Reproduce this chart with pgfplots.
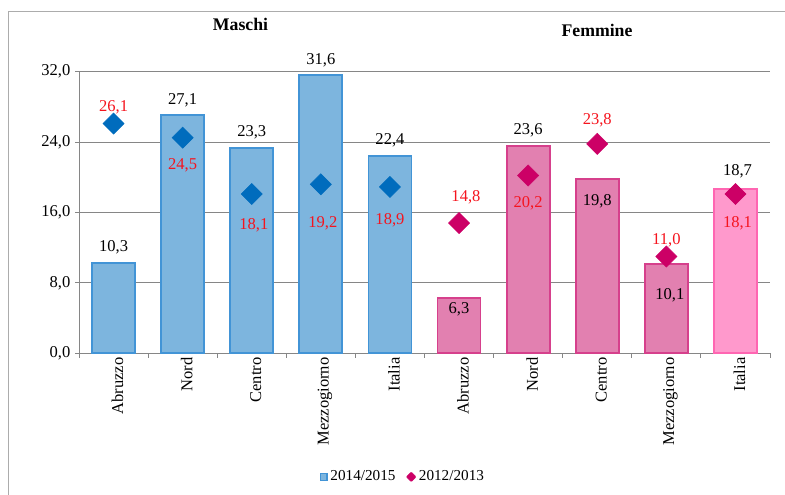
\documentclass[border=0pt]{standalone}
\usepackage{pgfplots}
\pgfplotsset{compat=1.18}
\usepackage{fontspec}
\setmainfont{Liberation Serif}
\definecolor{mfill}{RGB}{125,181,222}
\definecolor{mdraw}{RGB}{66,148,214}
\definecolor{ffill}{RGB}{226,128,176}
\definecolor{fdraw}{RGB}{214,64,140}
\definecolor{ifill}{RGB}{255,153,204}
\definecolor{idraw}{RGB}{255,102,178}
\definecolor{mdia}{RGB}{0,108,189}
\definecolor{fdia}{RGB}{204,0,102}
\definecolor{gridc}{RGB}{134,134,134}
\definecolor{lblred}{RGB}{245,20,30}
\begin{document}
\begin{tikzpicture}
\useasboundingbox (0,0) rectangle (588.75pt,371.25pt);
\draw[line width=1.1pt, color=gray!65] (6.2pt,-5pt) -- (6.2pt,362.5pt) -- (600pt,362.5pt);
\node[anchor=base, font=\fontsize{13.3}{15}\selectfont\bfseries] at (180.4pt,348.2pt) {Maschi};
\node[anchor=base, font=\fontsize{13.3}{15}\selectfont\bfseries] at (447.75pt,343.7pt) {Femmine};
\begin{axis}[
  at={(59.25pt,106.3pt)}, anchor=south west,
  scale only axis, width=518.25pt, height=211.2pt,
  xmin=-0.5, xmax=9.5, ymin=0, ymax=32,
  clip=false,
  axis x line*=bottom, axis y line*=left,
  axis line style={gridc, line width=0.7pt, -},
  ytick={0,8,16,24,32},
  ymajorgrids, grid style={gridc, line width=0.7pt},
  /pgf/number format/fixed,
  /pgf/number format/fixed zerofill,
  /pgf/number format/precision=1,
  /pgf/number format/use comma,
  /pgf/number format/assume math mode=true,
  yticklabel style={font=\fontsize{12.4}{14}\selectfont},
  xtick={0,...,9},
  xticklabels={Abruzzo,Nord,Centro,Mezzogiorno,Italia,Abruzzo,Nord,Centro,Mezzogiorno,Italia},
  xticklabel style={rotate=90, anchor=east, font=\fontsize{12.4}{14}\selectfont, inner sep=0pt, yshift=-3pt},
  minor xtick={-0.5,0.5,...,9.5},
  major x tick style={draw=none},
  tick style={gridc, line width=0.7pt},
  tick align=outside,
  major tick length=3pt, minor tick length=3.5pt,
  legend style={at={(0.469,-0.439)}, anchor=center, draw=none, fill=none,
    font=\fontsize{11.4}{13}\selectfont, legend columns=2,
    /tikz/every even column/.append style={column sep=6pt},
    legend cell align=left},
]
\addplot[ybar, bar shift=0pt, bar width=32.25pt, fill=mfill, draw=mdraw, line width=1.4pt, forget plot]
  coordinates {(0,10.3) (1,27.1) (2,23.3) (3,31.6) (4,22.4)};
\addplot[ybar, bar shift=0pt, bar width=32.25pt, fill=ffill, draw=fdraw, line width=1.4pt, forget plot]
  coordinates {(5,6.3) (6,23.6) (7,19.8) (8,10.1)};
\addplot[ybar, bar shift=0pt, bar width=32.25pt, fill=ifill, draw=idraw, line width=1.4pt, forget plot]
  coordinates {(9,18.7)};
\addplot[only marks, mark=square*, mark size=5.6pt, mark options={rotate=45, fill=mdia, draw=mdia, rounded corners=1pt}, forget plot]
  coordinates {(0,26.1) (1,24.5) (2,18.1) (3,19.2) (4,18.9)};
\addplot[only marks, mark=square*, mark size=5.6pt, mark options={rotate=45, fill=fdia, draw=fdia, rounded corners=1pt}, forget plot]
  coordinates {(5,14.8) (6,20.2) (7,23.8) (8,11.0) (9,18.1)};
\addlegendimage{legend image code/.code={\draw[fill=mfill, draw=mdraw, line width=1pt] (0pt,-2.6pt) rectangle (5.2pt,2.6pt);}}
\addlegendentry{2014/2015}
\addlegendimage{legend image code/.code={\fill[fdia, rounded corners=0.6pt] (0pt,0pt) -- (3.6pt,3.6pt) -- (7.2pt,0pt) -- (3.6pt,-3.6pt) -- cycle;}}
\addlegendentry{2012/2013}
\tikzset{lbl/.style={font=\fontsize{12.4}{14}\selectfont, inner sep=0pt, text height=0.66em, text depth=0pt, anchor=center}}
\node[lbl, text=lblred] at (axis cs:0,28.02) {26,1};
\node[lbl] at (axis cs:0,12.11) {10,3};
\node[lbl] at (axis cs:1,28.78) {27,1};
\node[lbl, text=lblred] at (axis cs:1,21.40) {24,5};
\node[lbl] at (axis cs:2,25.18) {23,3};
\node[lbl, text=lblred] at (axis cs:2.03,14.58) {18,1};
\node[lbl] at (axis cs:3,33.33) {31,6};
\node[lbl, text=lblred] at (axis cs:3.03,14.77) {19,2};
\node[lbl] at (axis cs:4,24.24) {22,4};
\node[lbl, text=lblred] at (axis cs:4,15.15) {18,9};
\node[lbl, text=lblred] at (axis cs:5.1,17.73) {14,8};
\node[lbl] at (axis cs:5,5.0) {6,3};
\node[lbl] at (axis cs:6,25.38) {23,6};
\node[lbl, text=lblred] at (axis cs:6,17.05) {20,2};
\node[lbl, text=lblred] at (axis cs:7,26.51) {23,8};
\node[lbl] at (axis cs:7,17.34) {19,8};
\node[lbl, text=lblred] at (axis cs:8,12.88) {11,0};
\node[lbl] at (axis cs:8.05,6.63) {10,1};
\node[lbl] at (axis cs:9.03,20.72) {18,7};
\node[lbl, text=lblred] at (axis cs:9.03,14.84) {18,1};
\end{axis}
\end{tikzpicture}
\end{document}
